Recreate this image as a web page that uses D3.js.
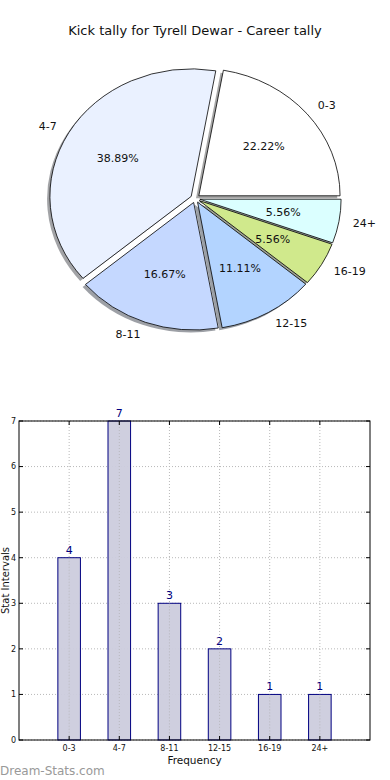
<!DOCTYPE html>
<html><head><meta charset="utf-8">
<script src="https://cdn.jsdelivr.net/npm/d3@7/dist/d3.min.js"></script>
<style>
html,body{margin:0;padding:0;background:#fff;}
svg{display:block;font-family:"DejaVu Sans",sans-serif;}
</style></head>
<body>
<script>
const title = "Kick tally for Tyrell Dewar - Career tally";
const categories = ["0-3","4-7","8-11","12-15","16-19","24+"];
const values = [4,7,3,2,1,1];
const pieColors = ["#ffffff","#eaf1ff","#c5d8ff","#b3d4ff","#d0e98c","#dbffff"];
const yTicks = [0,1,2,3,4,5,6,7];
const xLabel = "Frequency";
const yLabel = "Stat Intervals";
const watermark = "Dream-Stats.com";

const W = 390, H = 780;
const svg = d3.select("body").append("svg").attr("width", W).attr("height", H);

svg.append("text").attr("x", 195).attr("y", 35).attr("text-anchor","middle")
  .attr("font-size", 13).attr("fill","#111").text(title);

// ---------- Pie ----------
const cx = 195.25, cy = 198.5, sx = 141.25, sy = 127.5, explode = 0.033;
const total = d3.sum(values);
let acc = 0;
const slices = values.map((v,i)=>{
  const t1 = acc/total*2*Math.PI; acc += v; const t2 = acc/total*2*Math.PI;
  return {i, v, t1, t2, mid:(t1+t2)/2};
});
const arc = d3.arc().innerRadius(0).outerRadius(1);
const toScreen = (ux, uy) => [cx + sx*ux, cy - sy*uy];

const pieG = svg.append("g");
// shadows
slices.forEach(s=>{
  const ex = explode*Math.cos(s.mid), ey = explode*Math.sin(s.mid);
  const [px,py] = toScreen(ex-0.02, ey-0.02);
  const c = d3.rgb(pieColors[s.i]);
  pieG.append("path")
    .attr("transform",`translate(${px},${py}) scale(${sx},${sy})`)
    .attr("d", arc({startAngle:Math.PI/2 - s.t2, endAngle:Math.PI/2 - s.t1}))
    .attr("fill", d3.rgb(c.r*0.3,c.g*0.3,c.b*0.3)).attr("fill-opacity",0.5);
});
slices.forEach(s=>{
  const ex = explode*Math.cos(s.mid), ey = explode*Math.sin(s.mid);
  const [px,py] = toScreen(ex, ey);
  pieG.append("path")
    .attr("transform",`translate(${px},${py}) scale(${sx},${sy})`)
    .attr("d", arc({startAngle:Math.PI/2 - s.t2, endAngle:Math.PI/2 - s.t1}))
    .attr("fill", pieColors[s.i]).attr("stroke","#000").attr("stroke-width",0.8)
    .attr("vector-effect","non-scaling-stroke").attr("stroke-linejoin","round");
});
slices.forEach(s=>{
  const c = Math.cos(s.mid), sn = Math.sin(s.mid);
  const [lx,ly] = toScreen((explode+1.1)*c, (explode+1.1)*sn);
  pieG.append("text").attr("x",lx).attr("y",ly).attr("dy","0.35em")
    .attr("text-anchor", c>0 ? "start":"end").attr("font-size",11).attr("fill","#111")
    .text(categories[s.i]);
  const [qx,qy] = toScreen((explode+0.6)*c, (explode+0.6)*sn);
  pieG.append("text").attr("x",qx).attr("y",qy).attr("dy","0.35em")
    .attr("text-anchor","middle").attr("font-size",11).attr("fill","#111")
    .text((s.v/total*100).toFixed(2)+"%");
});

// ---------- Bar ----------
const L = 19, R = 370, T = 421, B = 740;
const x = d3.scaleLinear().domain([-1, categories.length]).range([L, R]);
const y = d3.scaleLinear().domain([0, 7]).range([B, T]);
const bw = 0.45;
const g = svg.append("g");

// grid
yTicks.forEach(t=>{
  g.append("line").attr("x1",L).attr("x2",R).attr("y1",y(t)).attr("y2",y(t))
    .attr("stroke","#b8b8b8").attr("stroke-width",1).attr("stroke-dasharray","1,2");
});
categories.forEach((c,i)=>{
  g.append("line").attr("x1",x(i)).attr("x2",x(i)).attr("y1",T).attr("y2",B)
    .attr("stroke","#b8b8b8").attr("stroke-width",1).attr("stroke-dasharray","1,2");
});

// bars
g.selectAll("rect.bar").data(values).enter().append("rect")
  .attr("x",(d,i)=>x(i-bw/2)).attr("width",x(bw)-x(0))
  .attr("y",d=>y(d)).attr("height",d=>B-y(d))
  .attr("fill","#ccccdd").attr("fill-opacity",0.95).attr("stroke","#000080").attr("stroke-width",1);

// grid over bars (dotted visible through)
categories.forEach((c,i)=>{
  g.append("line").attr("x1",x(i)).attr("x2",x(i)).attr("y1",y(values[i])).attr("y2",B)
    .attr("stroke","#aaaaaa").attr("stroke-opacity",0.6).attr("stroke-width",1).attr("stroke-dasharray","1,2");
});

// value labels
g.selectAll("text.val").data(values).enter().append("text")
  .attr("x",(d,i)=>x(i)).attr("y",d=>y(d)-4).attr("text-anchor","middle")
  .attr("font-size",11).attr("fill","#000080").text(d=>d);

// frame
g.append("rect").attr("x",L).attr("y",T).attr("width",R-L).attr("height",B-T)
  .attr("fill","none").attr("stroke","#000").attr("stroke-width",1);

// ticks
yTicks.forEach(t=>{
  g.append("line").attr("x1",L).attr("x2",L+4).attr("y1",y(t)).attr("y2",y(t)).attr("stroke","#000");
  g.append("line").attr("x1",R-4).attr("x2",R).attr("y1",y(t)).attr("y2",y(t)).attr("stroke","#000");
  g.append("text").attr("x",L-3).attr("y",y(t)).attr("dy","0.35em").attr("text-anchor","end")
    .attr("font-size",8).attr("fill","#111").text(t);
});
categories.forEach((c,i)=>{
  g.append("line").attr("x1",x(i)).attr("x2",x(i)).attr("y1",B-4).attr("y2",B).attr("stroke","#000");
  g.append("line").attr("x1",x(i)).attr("x2",x(i)).attr("y1",T).attr("y2",T+4).attr("stroke","#000");
  g.append("text").attr("x",x(i)).attr("y",B+11).attr("text-anchor","middle")
    .attr("font-size",8).attr("fill","#111").text(c);
});

svg.append("text").attr("x",(L+R)/2).attr("y",764).attr("text-anchor","middle")
  .attr("font-size",10.5).attr("fill","#111").text(xLabel);
svg.append("text").attr("transform",`translate(5.5,${(T+B)/2}) rotate(-90)`)
  .attr("text-anchor","middle").attr("dy","0.35em").attr("font-size",10).attr("fill","#111").text(yLabel);

svg.append("text").attr("x",0).attr("y",775).attr("font-size",12)
  .attr("fill","#999999").text(watermark);
</script>
</body></html>
